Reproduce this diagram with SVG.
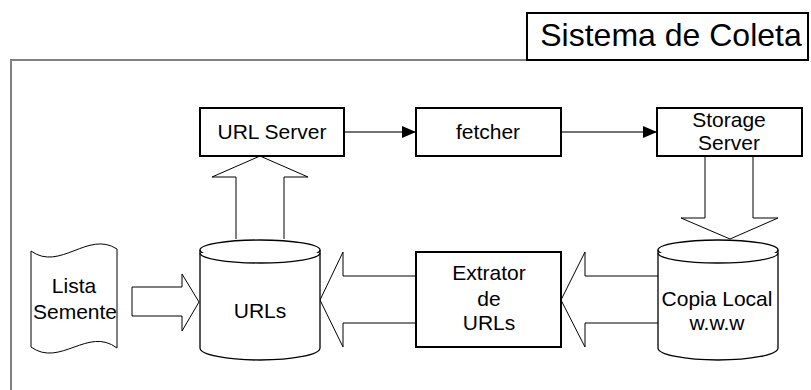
<svg xmlns="http://www.w3.org/2000/svg" width="811" height="390" viewBox="0 0 811 390">
<style>
text{font-family:"Liberation Sans",Arial,sans-serif;font-size:21px;fill:#000;text-anchor:middle}
.box{fill:#fff;stroke:#000;stroke-width:2}
.fat{fill:#fff;stroke:#000;stroke-width:1}
.cyl{fill:#fff;stroke:#000;stroke-width:1.3}
.conn{stroke:#444;stroke-width:1.5;fill:none}
.frame{stroke:#808080;stroke-width:2;fill:none}
</style>
<defs>
<marker id="ah" markerWidth="14" markerHeight="12" refX="14" refY="6" orient="auto" markerUnits="userSpaceOnUse">
<path d="M0,0 L14,6 L0,12 Z" fill="#000"/>
</marker>
</defs>
<g id="frame">
<path class="frame" d="M11,390 L11,60 L527,60"/>
</g>
<g id="title">
<rect class="box" x="527" y="13" width="281" height="47"/>
<text x="671" y="46" style="font-size:32px">Sistema de Coleta</text>
</g>
<g id="connectors">
<line class="conn" x1="344" y1="132" x2="416" y2="132" marker-end="url(#ah)"/>
<line class="conn" x1="561" y1="132" x2="657" y2="132" marker-end="url(#ah)"/>
<path class="fat" d="M236,239 L236,177 L212,177 L260,156 L308,177 L284,177 L284,239"/>
<path class="fat" d="M705,156 L705,218 L681,218 L730,239 L778,218 L753,218 L753,156"/>
<path class="fat" d="M132,287 L182,287 L182,274 L199,302 L182,331 L182,316 L132,316 Z"/>
<path class="fat" d="M416,276 L343,276 L343,252 L320,300 L343,347 L343,323 L416,323"/>
<path class="fat" d="M658,276 L585,276 L585,252 L561,300 L585,347 L585,323 L658,323"/>
</g>
<g id="url-server">
<rect class="box" x="200" y="108" width="144" height="48"/>
<text x="272" y="139">URL Server</text>
</g>
<g id="fetcher">
<rect class="box" x="416" y="108" width="145" height="48"/>
<text x="488" y="139">fetcher</text>
</g>
<g id="storage-server">
<rect class="box" x="657" y="108" width="145" height="48"/>
<text x="729" y="127">Storage</text>
<text x="729" y="150">Server</text>
</g>
<g id="lista-semente">
<path class="fat" d="M31,251 C60,272 88,230 117,249 L117,348 C88,326 60,368 31,347 Z"/>
<text x="74" y="293">Lista</text>
<text x="75" y="319">Semente</text>
</g>
<g id="urls">
<path class="cyl" d="M200,250 L200,348 A60,12 0 0 0 320,348 L320,250"/>
<ellipse class="cyl" cx="260" cy="250" rx="60" ry="10"/>
<path class="cyl" d="M200,253 A60,10 0 0 0 320,253"/>
<text x="260" y="318">URLs</text>
</g>
<g id="extrator">
<rect class="box" x="416" y="252" width="145" height="95"/>
<text x="489" y="280">Extrator</text>
<text x="489" y="306">de</text>
<text x="489" y="330">URLs</text>
</g>
<g id="copia-local">
<path class="cyl" d="M658,250 L658,348 A60,12 0 0 0 778,348 L778,250"/>
<ellipse class="cyl" cx="718" cy="250" rx="60" ry="10"/>
<path class="cyl" d="M658,253 A60,10 0 0 0 778,253"/>
<text x="717" y="306">Copia Local</text>
<text x="717" y="330">w.w.w</text>
</g>
</svg>
